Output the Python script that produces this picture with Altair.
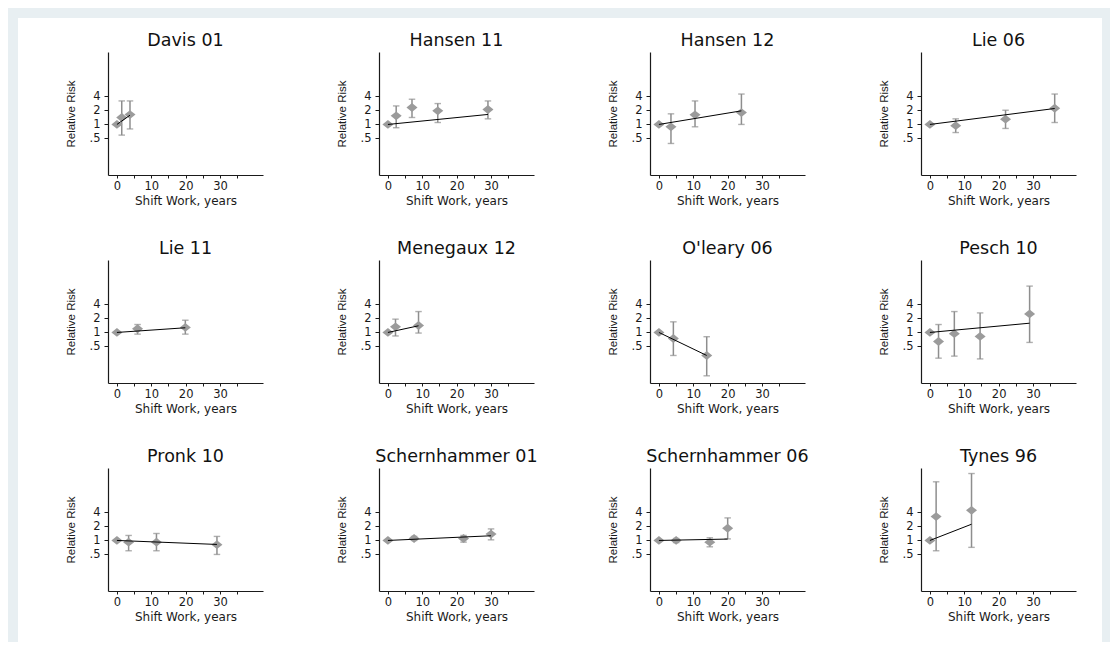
import altair as alt
import pandas as pd

# ---------------- data ----------------
studies = ["Davis 01", "Hansen 11", "Hansen 12", "Lie 06",
           "Lie 11", "Menegaux 12", "O'leary 06", "Pesch 10",
           "Pronk 10", "Schernhammer 01", "Schernhammer 06", "Tynes 96"]

pt_study = (["Davis 01"] * 3 + ["Hansen 11"] * 5 + ["Hansen 12"] * 4 + ["Lie 06"] * 4 +
            ["Lie 11"] * 3 + ["Menegaux 12"] * 3 + ["O'leary 06"] * 3 + ["Pesch 10"] * 5 +
            ["Pronk 10"] * 4 + ["Schernhammer 01"] * 4 + ["Schernhammer 06"] * 4 + ["Tynes 96"] * 3)

pt_years = [0, 1.4, 3.8,
            0, 2.4, 7.0, 14.5, 29.1,
            0, 3.5, 10.5, 24.0,
            0, 7.5, 22.0, 36.3,
            0, 6.0, 19.9,
            0, 2.2, 8.9,
            0, 4.2, 13.9,
            0, 2.5, 7.1, 14.6, 29.0,
            0, 3.4, 11.5, 29.1,
            0, 7.6, 22.0, 30.0,
            0, 5.0, 14.8, 20.0,
            0, 1.8, 12.1]

pt_rr = [1, 1.41, 1.63,
         1, 1.53, 2.31, 1.96, 2.09,
         1, 0.89, 1.61, 1.80,
         1, 0.94, 1.30, 2.23,
         1, 1.20, 1.28,
         1, 1.32, 1.41,
         1, 0.74, 0.32,
         1, 0.64, 0.94, 0.82, 2.50,
         1, 0.92, 0.92, 0.81,
         1, 1.10, 1.10, 1.37,
         1, 1.00, 0.92, 1.83,
         1, 3.25, 4.44]

pt_lo = [None, 0.59, 0.80,
         None, 0.85, 1.41, 1.10, 1.32,
         None, 0.39, 0.89, 1.00,
         None, 0.67, 0.82, 1.10,
         None, 0.92, 0.92,
         None, 0.84, 0.97,
         None, 0.32, 0.117,
         None, 0.28, 0.31, 0.27, 0.61,
         None, 0.60, 0.60, 0.50,
         None, 1.00, 0.92, 1.03,
         None, 0.90, 0.73, 1.08,
         None, 0.60, 0.71]

pt_hi = [None, 3.2, 3.2,
         None, 2.5, 3.48, 2.81, 3.2,
         None, 1.69, 3.2, 4.5,
         None, 1.32, 2.02, 4.5,
         None, 1.48, 1.83,
         None, 1.93, 2.81,
         None, 1.69, 0.81,
         None, 1.48, 2.81, 2.63, 9.9,
         None, 1.28, 1.41, 1.22,
         None, 1.22, 1.28, 1.77,
         None, 1.10, 1.14, 3.05,
         None, 18.2, 27.4]

# fitted trend: RR at the last exposure point (line starts at RR = 1 at 0 years)
fit_end_rr = [1.58, 1.64, 1.96, 2.20, 1.26, 1.39, 0.32, 1.58, 0.82, 1.26, 1.07, 2.23]

x_ticks = [0, 5, 10, 15, 20, 25, 30, 35]
y_ticks = [0.5, 1, 2, 4]

# ---------------- tables ----------------
pts = pd.DataFrame({"study": pt_study, "years": pt_years, "rr": pt_rr,
                    "lo": pt_lo, "hi": pt_hi})
ci = pts.dropna(subset=["lo", "hi"])
last_x = pts.groupby("study")["years"].max()

# ---------------- layout / style ----------------
FONT_H = "DejaVu Sans"
FONT_V = "Liberation Sans"
W, H = 271, 208           # one cell
PL, PT, PW, PH = 90, 34, 155, 123   # plot area inside the cell
GREY_PT = "#9b9b9b"
GREY_CI = "#8e8e8e"
INK = "#1a1a1a"

x_scale = alt.Scale(domain=[-2.6, 42.5], range=[PL, PL + PW], nice=False, zero=False)
y_scale = alt.Scale(type="log", domain=[0.082, 36], range=[PT + PH, PT], nice=False)

x_axis = alt.Axis(title="Shift Work, years", values=x_ticks,
                  labelExpr="(datum.value % 10 == 0 && datum.value <= 30) ? datum.label : ''",
                  offset=PT + PH - H, grid=False, tickSize=3, labelPadding=2, titlePadding=4,
                  labelFont=FONT_H, labelFontSize=11.5, titleFont=FONT_H, titleFontSize=12,
                  titleFontWeight="normal", domainColor=INK, tickColor=INK, labelColor=INK,
                  titleColor=INK, labelOverlap=False, labelFlush=False, domainWidth=1.2)
y_axis = alt.Axis(title="Relative Risk", values=y_ticks,
                  labelExpr="datum.value < 1 ? '.5' : format(datum.value, 'd')",
                  offset=-PL, grid=False, tickSize=4, labelPadding=4, titlePadding=13,
                  labelFont=FONT_H, labelFontSize=11.5, titleFont=FONT_V, titleFontSize=11.5,
                  titleFontWeight="normal", domainColor=INK, tickColor=INK, labelColor=INK,
                  titleColor=INK, labelOverlap=False, labelFlush=False, domainWidth=1.2)

X = alt.X("years:Q", scale=x_scale, axis=x_axis)


def Y(field):
    return alt.Y(f"{field}:Q", scale=y_scale, axis=y_axis)


DIAMOND = "M-1.25,0L0,-1L1.25,0L0,1Z"

cells = []
for s in studies:
    p = pts[pts["study"] == s]
    c = ci[ci["study"] == s]
    fit = pd.DataFrame({"years": [0, last_x[s]],
                        "rr": [1.0, fit_end_rr[studies.index(s)]]})
    ttl = pd.DataFrame({"t": [s]})

    bars = alt.Chart(c).mark_rule(color=GREY_CI, strokeWidth=1.5).encode(
        x=X, y=Y("lo"), y2="hi:Q")
    cap_lo = alt.Chart(c).mark_tick(orient="horizontal", size=6.5, thickness=1.4,
                                    color=GREY_CI).encode(x=X, y=Y("lo"))
    cap_hi = alt.Chart(c).mark_tick(orient="horizontal", size=6.5, thickness=1.4,
                                    color=GREY_CI).encode(x=X, y=Y("hi"))
    dots = alt.Chart(p).mark_point(shape=DIAMOND, filled=True, size=78, opacity=1,
                                   color=GREY_PT, strokeWidth=0).encode(x=X, y=Y("rr"))
    line = alt.Chart(fit).mark_line(color="black", strokeWidth=1).encode(x=X, y=Y("rr"))
    title = alt.Chart(ttl).mark_text(font=FONT_H, fontSize=17.5, align="center",
                                     baseline="alphabetic", color="#111").encode(
        text="t:N", x=alt.value(PL + PW / 2), y=alt.value(28))

    cells.append(alt.layer(bars, cap_lo, cap_hi, dots, line, title).properties(width=W, height=H))

chart = alt.concat(*cells, columns=4, spacing=0).properties(
    background="#e8eff2",
    padding={"left": 10, "top": 10, "right": 8, "bottom": 0},
).configure_view(fill="white", strokeWidth=0)

chart.save("out.html", embed_options={"renderer": "svg", "actions": False})
